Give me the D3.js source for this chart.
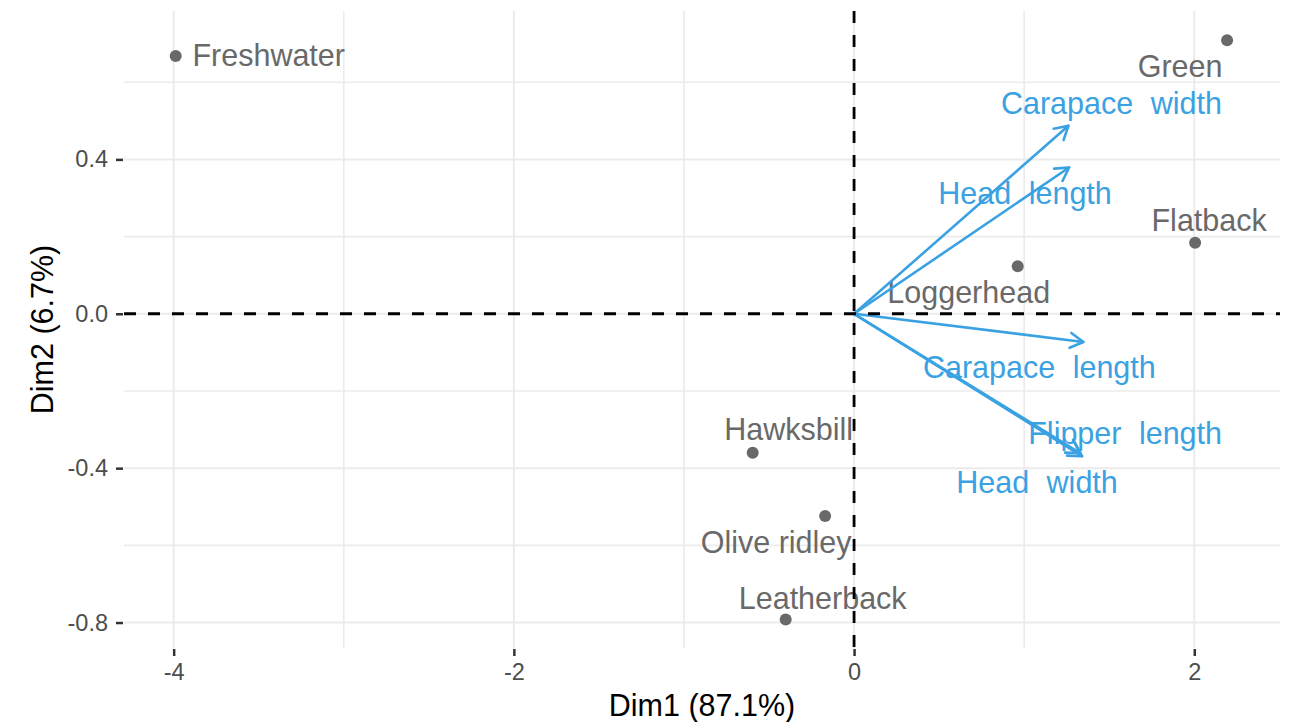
<!DOCTYPE html>
<meta charset="utf-8">
<script src="https://d3js.org/d3.v7.min.js"></script>
<style>
  body { margin: 0; background: #fff; }
  text { font-family: "Liberation Sans", Arial, sans-serif; }
</style>
<body>
<div id="chart"></div>
<script>

// individuals (turtle species) - coordinates on Dim1 / Dim2
var indNames = ["Freshwater", "Green", "Flatback", "Loggerhead", "Hawksbill", "Olive ridley", "Leatherback"];
var indDim1 = [-3.988, 2.193, 2.005, 0.962, -0.596, -0.170, -0.402];
var indDim2 = [0.668, 0.709, 0.184, 0.123, -0.360, -0.524, -0.792];

// variables - arrow ends
var varNames = ["Carapace width", "Head length", "Carapace length", "Flipper length", "Head width"];
var varDim1 = [1.260, 1.264, 1.348, 1.329, 1.340];
var varDim2 = [0.487, 0.379, -0.073, -0.361, -0.369];

// axes
var xTicks = [-4, -2, 0, 2];
var xMinor = [-3, -1, 1];
var yTicks = [-0.8, -0.4, 0.0, 0.4];
var yMinor = [-0.6, -0.2, 0.2, 0.6];
var xTitle = "Dim1 (87.1%)";
var yTitle = "Dim2 (6.7%)";

// label placement (repelled), pixel offsets from the point / arrow tip
var indLabelOffset = [[93, -1], [-47, 26], [14, -22], [-49, 26], [36, -23], [-49, 26], [37, -21]];
var varLabelOffset = [[43, -22], [-44, 26], [-44, 25], [45, -20], [-45, 26]];

var W = 1290, H = 722;
var panel = { left: 124, right: 1280, top: 11, bottom: 648 };
var grey = "#696969", blue = "#3aa2e2";

var svg = d3.select("#chart")
  .append("svg")
  .attr("width", W)
  .attr("height", H);

svg.append("rect").attr("width", W).attr("height", H).attr("fill", "#fff");

var x = d3.scaleLinear().domain([-4.292, 2.504]).range([panel.left, panel.right]);
var y = d3.scaleLinear().domain([-0.866, 0.7845]).range([panel.bottom, panel.top]);

// hyphen instead of unicode minus, like R output
function hy(fmt) {
  var f = d3.format(fmt);
  return function(d) { return f(d).replace("\u2212", "-"); };
}

// grid
var grid = svg.append("g");
grid.selectAll(".vminor").data(xMinor).enter().append("line")
  .attr("x1", d => x(d)).attr("x2", d => x(d))
  .attr("y1", panel.top).attr("y2", panel.bottom)
  .attr("stroke", "#ebebeb").attr("stroke-width", 1.6);
grid.selectAll(".hminor").data(yMinor).enter().append("line")
  .attr("y1", d => y(d)).attr("y2", d => y(d))
  .attr("x1", panel.left).attr("x2", panel.right)
  .attr("stroke", "#ebebeb").attr("stroke-width", 1.6);
grid.selectAll(".vmajor").data(xTicks).enter().append("line")
  .attr("x1", d => x(d)).attr("x2", d => x(d))
  .attr("y1", panel.top).attr("y2", panel.bottom)
  .attr("stroke", "#ebebeb").attr("stroke-width", 2);
grid.selectAll(".hmajor").data(yTicks).enter().append("line")
  .attr("y1", d => y(d)).attr("y2", d => y(d))
  .attr("x1", panel.left).attr("x2", panel.right)
  .attr("stroke", "#ebebeb").attr("stroke-width", 2);

// X axis
var xAxis = svg.append("g")
  .attr("transform", "translate(0," + (panel.bottom + 1) + ")")
  .call(d3.axisBottom(x).tickValues(xTicks).tickSize(7).tickPadding(7.3).tickFormat(hy("d")));
// Y axis
var yAxis = svg.append("g")
  .attr("transform", "translate(" + (panel.left - 1) + ",0)")
  .call(d3.axisLeft(y).tickValues(yTicks).tickSize(7).tickPadding(8).tickFormat(hy(".1f")));

[xAxis, yAxis].forEach(function(a) {
  a.select(".domain").remove();
  a.selectAll(".tick line").attr("stroke", "#333").attr("stroke-width", 2.5);
  a.selectAll(".tick text")
    .attr("fill", "#4d4d4d")
    .style("font-size", "23.5px")
    .style("font-family", "'Liberation Sans', Arial, sans-serif");
});

// axis titles
svg.append("text")
  .attr("x", (panel.left + panel.right) / 2)
  .attr("y", 705)
  .attr("dy", "0.35em")
  .attr("text-anchor", "middle")
  .style("font-size", "30.5px")
  .attr("fill", "#000")
  .text(xTitle);

svg.append("text")
  .attr("transform", "translate(42.5," + ((panel.top + panel.bottom) / 2) + ") rotate(-90)")
  .attr("dy", "0.35em")
  .attr("text-anchor", "middle")
  .style("font-size", "30.5px")
  .attr("fill", "#000")
  .text(yTitle);

// individuals
var inds = indNames.map(function(n, i) { return { name: n, d1: indDim1[i], d2: indDim2[i], off: indLabelOffset[i] }; });

svg.selectAll(".ind").data(inds).enter().append("circle")
  .attr("cx", d => x(d.d1))
  .attr("cy", d => y(d.d2))
  .attr("r", 6)
  .attr("fill", grey);

svg.selectAll(".indlab").data(inds).enter().append("text")
  .attr("x", d => x(d.d1) + d.off[0])
  .attr("y", d => y(d.d2) + d.off[1])
  .attr("dy", "0.35em")
  .attr("text-anchor", "middle")
  .style("font-size", "30.5px")
  .attr("fill", grey)
  .text(d => d.name);

// variable arrows
var vars = varNames.map(function(n, i) { return { name: n, d1: varDim1[i], d2: varDim2[i], off: varLabelOffset[i] }; });

var arrows = svg.append("g")
  .attr("stroke", blue)
  .attr("stroke-width", 2.6)
  .attr("fill", "none")
  .attr("stroke-linecap", "round");

vars.forEach(function(v) {
  var x0 = x(0), y0 = y(0), x1 = x(v.d1), y1 = y(v.d2);
  var ang = Math.atan2(y1 - y0, x1 - x0);
  var len = 15, spread = Math.PI / 6;
  arrows.append("line").attr("x1", x0).attr("y1", y0).attr("x2", x1).attr("y2", y1);
  arrows.append("path")
    .attr("stroke-linejoin", "round")
    .attr("d", "M" + (x1 - len * Math.cos(ang - spread)) + "," + (y1 - len * Math.sin(ang - spread)) +
      "L" + x1 + "," + y1 +
      "L" + (x1 - len * Math.cos(ang + spread)) + "," + (y1 - len * Math.sin(ang + spread)));
});

svg.selectAll(".varlab").data(vars).enter().append("text")
  .attr("x", d => x(d.d1) + d.off[0])
  .attr("y", d => y(d.d2) + d.off[1])
  .attr("dy", "0.35em")
  .attr("text-anchor", "middle")
  .style("font-size", "30.5px")
  .style("word-spacing", "9px")
  .attr("fill", blue)
  .text(d => d.name);

// dashed reference lines through the origin
svg.append("line")
  .attr("x1", panel.left).attr("x2", panel.right)
  .attr("y1", y(0)).attr("y2", y(0))
  .attr("stroke", "#000").attr("stroke-width", 2.8)
  .attr("stroke-dasharray", "12,12");
svg.append("line")
  .attr("x1", x(0)).attr("x2", x(0))
  .attr("y1", panel.top).attr("y2", panel.bottom)
  .attr("stroke", "#000").attr("stroke-width", 2.8)
  .attr("stroke-dasharray", "12,12");

</script>
</body>
